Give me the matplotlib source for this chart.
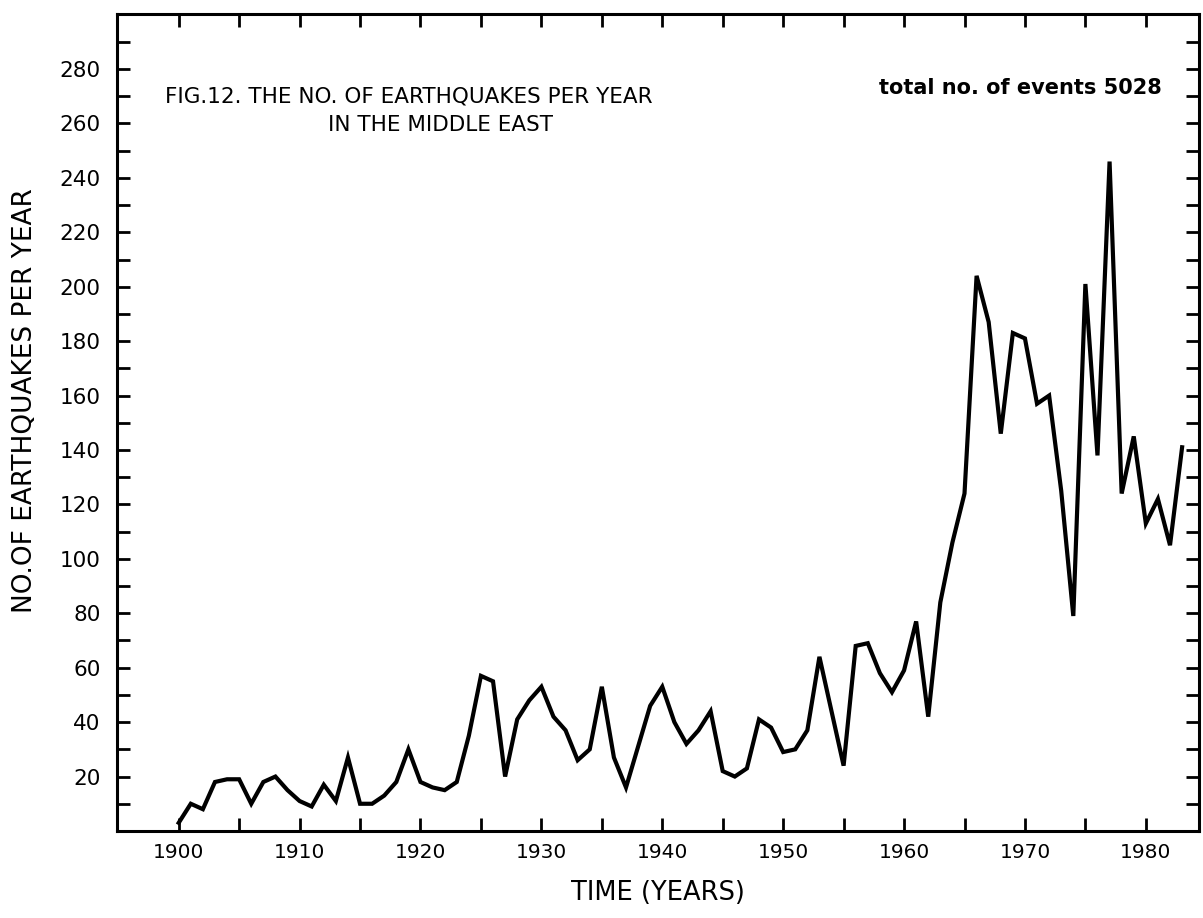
import matplotlib
matplotlib.use("Agg")
import matplotlib.pyplot as plt
from matplotlib.ticker import FixedLocator

# ---- data ----
years = list(range(1900, 1984))
counts = [3, 10, 8, 18, 19, 19, 10, 18, 20, 15,
          11, 9, 17, 11, 27, 10, 10, 13, 18, 30,
          18, 16, 15, 18, 35, 57, 55, 20, 41, 48,
          53, 42, 37, 26, 30, 53, 27, 16, 31, 46,
          53, 40, 32, 37, 44, 22, 20, 23, 41, 38,
          29, 30, 37, 64, 44, 24, 68, 69, 58, 51,
          59, 77, 42, 84, 106, 124, 204, 187, 146, 183,
          181, 157, 160, 125, 79, 201, 138, 246, 124, 145,
          113, 122, 105, 141]

x_major = [1900, 1910, 1920, 1930, 1940, 1950, 1960, 1970, 1980]
x_minor = [1905, 1915, 1925, 1935, 1945, 1955, 1965, 1975]
y_major = [20, 40, 60, 80, 100, 120, 140, 160, 180, 200, 220, 240, 260, 280]
y_minor = [10, 30, 50, 70, 90, 110, 130, 150, 170, 190, 210, 230, 250, 270, 290]

title_line1 = "FIG.12. THE NO. OF EARTHQUAKES PER YEAR"
title_line2 = "IN THE MIDDLE EAST"
total_text = "total no. of events 5028"
x_label = "TIME (YEARS)"
y_label = "NO.OF EARTHQUAKES PER YEAR"

plt.rcParams["font.family"] = ["DejaVu Sans"]

fig = plt.figure(figsize=(12.03, 9.18), dpi=100)
ax = fig.add_axes([0.0973, 0.0948, 0.8994, 0.8899])

ax.plot(years, counts, color="black", lw=3.0, solid_joinstyle="miter")

ax.set_xlim(1894.9, 1984.4)
ax.set_ylim(0, 300.2)

ax.xaxis.set_major_locator(FixedLocator(x_major))
ax.xaxis.set_minor_locator(FixedLocator(x_minor))
ax.yaxis.set_major_locator(FixedLocator(y_major))
ax.yaxis.set_minor_locator(FixedLocator(y_minor))

for s in ax.spines.values():
    s.set_linewidth(2.2)
    s.set_color("black")

ax.tick_params(which="both", direction="in", top=True, right=True,
               length=9.5, width=2.0, color="black")
ax.tick_params(axis="x", which="major", labelsize=14.5, pad=9)
ax.tick_params(axis="y", which="major", labelsize=15.5, pad=12)

ax.set_xlabel(x_label, fontsize=18.5, va="center")
ax.xaxis.set_label_coords(0.5, -0.076)
ax.set_ylabel(y_label, fontsize=19, va="center")
ax.yaxis.set_label_coords(-0.085, 0.527)

ax.text(0.0444, 0.8996, title_line1, transform=ax.transAxes,
        fontsize=15.5, ha="left", va="center")
ax.text(0.195, 0.8641, title_line2, transform=ax.transAxes,
        fontsize=15.5, ha="left", va="center")
ax.text(0.9658, 0.9094, total_text, transform=ax.transAxes,
        fontsize=15, fontweight="bold", ha="right", va="center")

fig.savefig("out.png", dpi=100)
